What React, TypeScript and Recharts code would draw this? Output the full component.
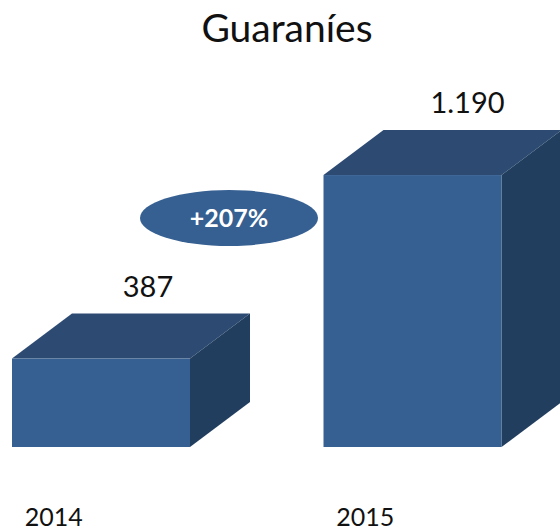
import { BarChart, Bar, XAxis, YAxis, LabelList } from "recharts";

const years = ["2014", "2015"];
const amounts = [387, 1190];
const amountLabels = ["387", "1.190"];
const title = "Guaraníes";
const growthLabel = "+207%";

const data = years.map((year, i) => ({ year, amount: amounts[i], label: amountLabels[i] }));

const FONT = "Lato, 'Open Sans', sans-serif";
const DEPTH_X = 60;
const DEPTH_Y = 45;
// the chart is wider than the page so that the two bands land where the bars sit
const OFFSET_X = 55;
const labelShift = [47, 55];

const Box3D = (props: any) => {
  const { x, y, width, height } = props;
  const r = x + width;
  const b = y + height;
  return (
    <g>
      <polygon
        points={`${x},${y} ${x + DEPTH_X},${y - DEPTH_Y} ${r + DEPTH_X},${y - DEPTH_Y} ${r},${y}`}
        fill="#2c4a72"
      />
      <polygon
        points={`${r},${y} ${r + DEPTH_X},${y - DEPTH_Y} ${r + DEPTH_X},${b - DEPTH_Y} ${r},${b}`}
        fill="#213e5f"
      />
      <rect x={x} y={y} width={width} height={height} fill="#366092" />
    </g>
  );
};

const YearTick = ({ x, y, payload }: any) => (
  <text x={x - 47} y={y} textAnchor="middle" fontSize={25} fontFamily={FONT} fill="#111111">
    {payload.value}
  </text>
);

const AmountLabel = ({ x, y, width, value, index }: any) => (
  <text
    x={x + width / 2 + labelShift[index]}
    y={y - 62}
    textAnchor="middle"
    fontSize={29}
    fontFamily={FONT}
    fill="#111111"
  >
    {value}
  </text>
);

export default function App() {
  return (
    <div style={{ position: "absolute", left: 0, top: 0, width: 560, height: 530, overflow: "hidden" }}>
      <div style={{ position: "absolute", left: -OFFSET_X, top: 0 }}>
        <BarChart
          width={623}
          height={530}
          data={data}
          margin={{ top: 0, right: 0, bottom: 53, left: 0 }}
          barSize={178}
          style={{ overflow: "visible" }}
        >
          <XAxis
            dataKey="year"
            axisLine={false}
            tickLine={false}
            tick={<YearTick />}
            tickMargin={73}
            interval={0}
          />
          <YAxis hide domain={[0, 1956]} />
          <Bar dataKey="amount" isAnimationActive={false} shape={<Box3D />}>
            <LabelList dataKey="label" content={<AmountLabel />} />
          </Bar>
          <text
            x={287 + OFFSET_X}
            y={42}
            textAnchor="middle"
            fontSize={39}
            fontFamily={FONT}
            fill="#111111"
          >
            {title}
          </text>
          <ellipse cx={229 + OFFSET_X} cy={218} rx={89} ry={28} fill="#366092" />
          <text
            x={229 + OFFSET_X}
            y={227}
            textAnchor="middle"
            fontSize={25}
            fontWeight={700}
            fontFamily={FONT}
            fill="#ffffff"
          >
            {growthLabel}
          </text>
        </BarChart>
      </div>
    </div>
  );
}
